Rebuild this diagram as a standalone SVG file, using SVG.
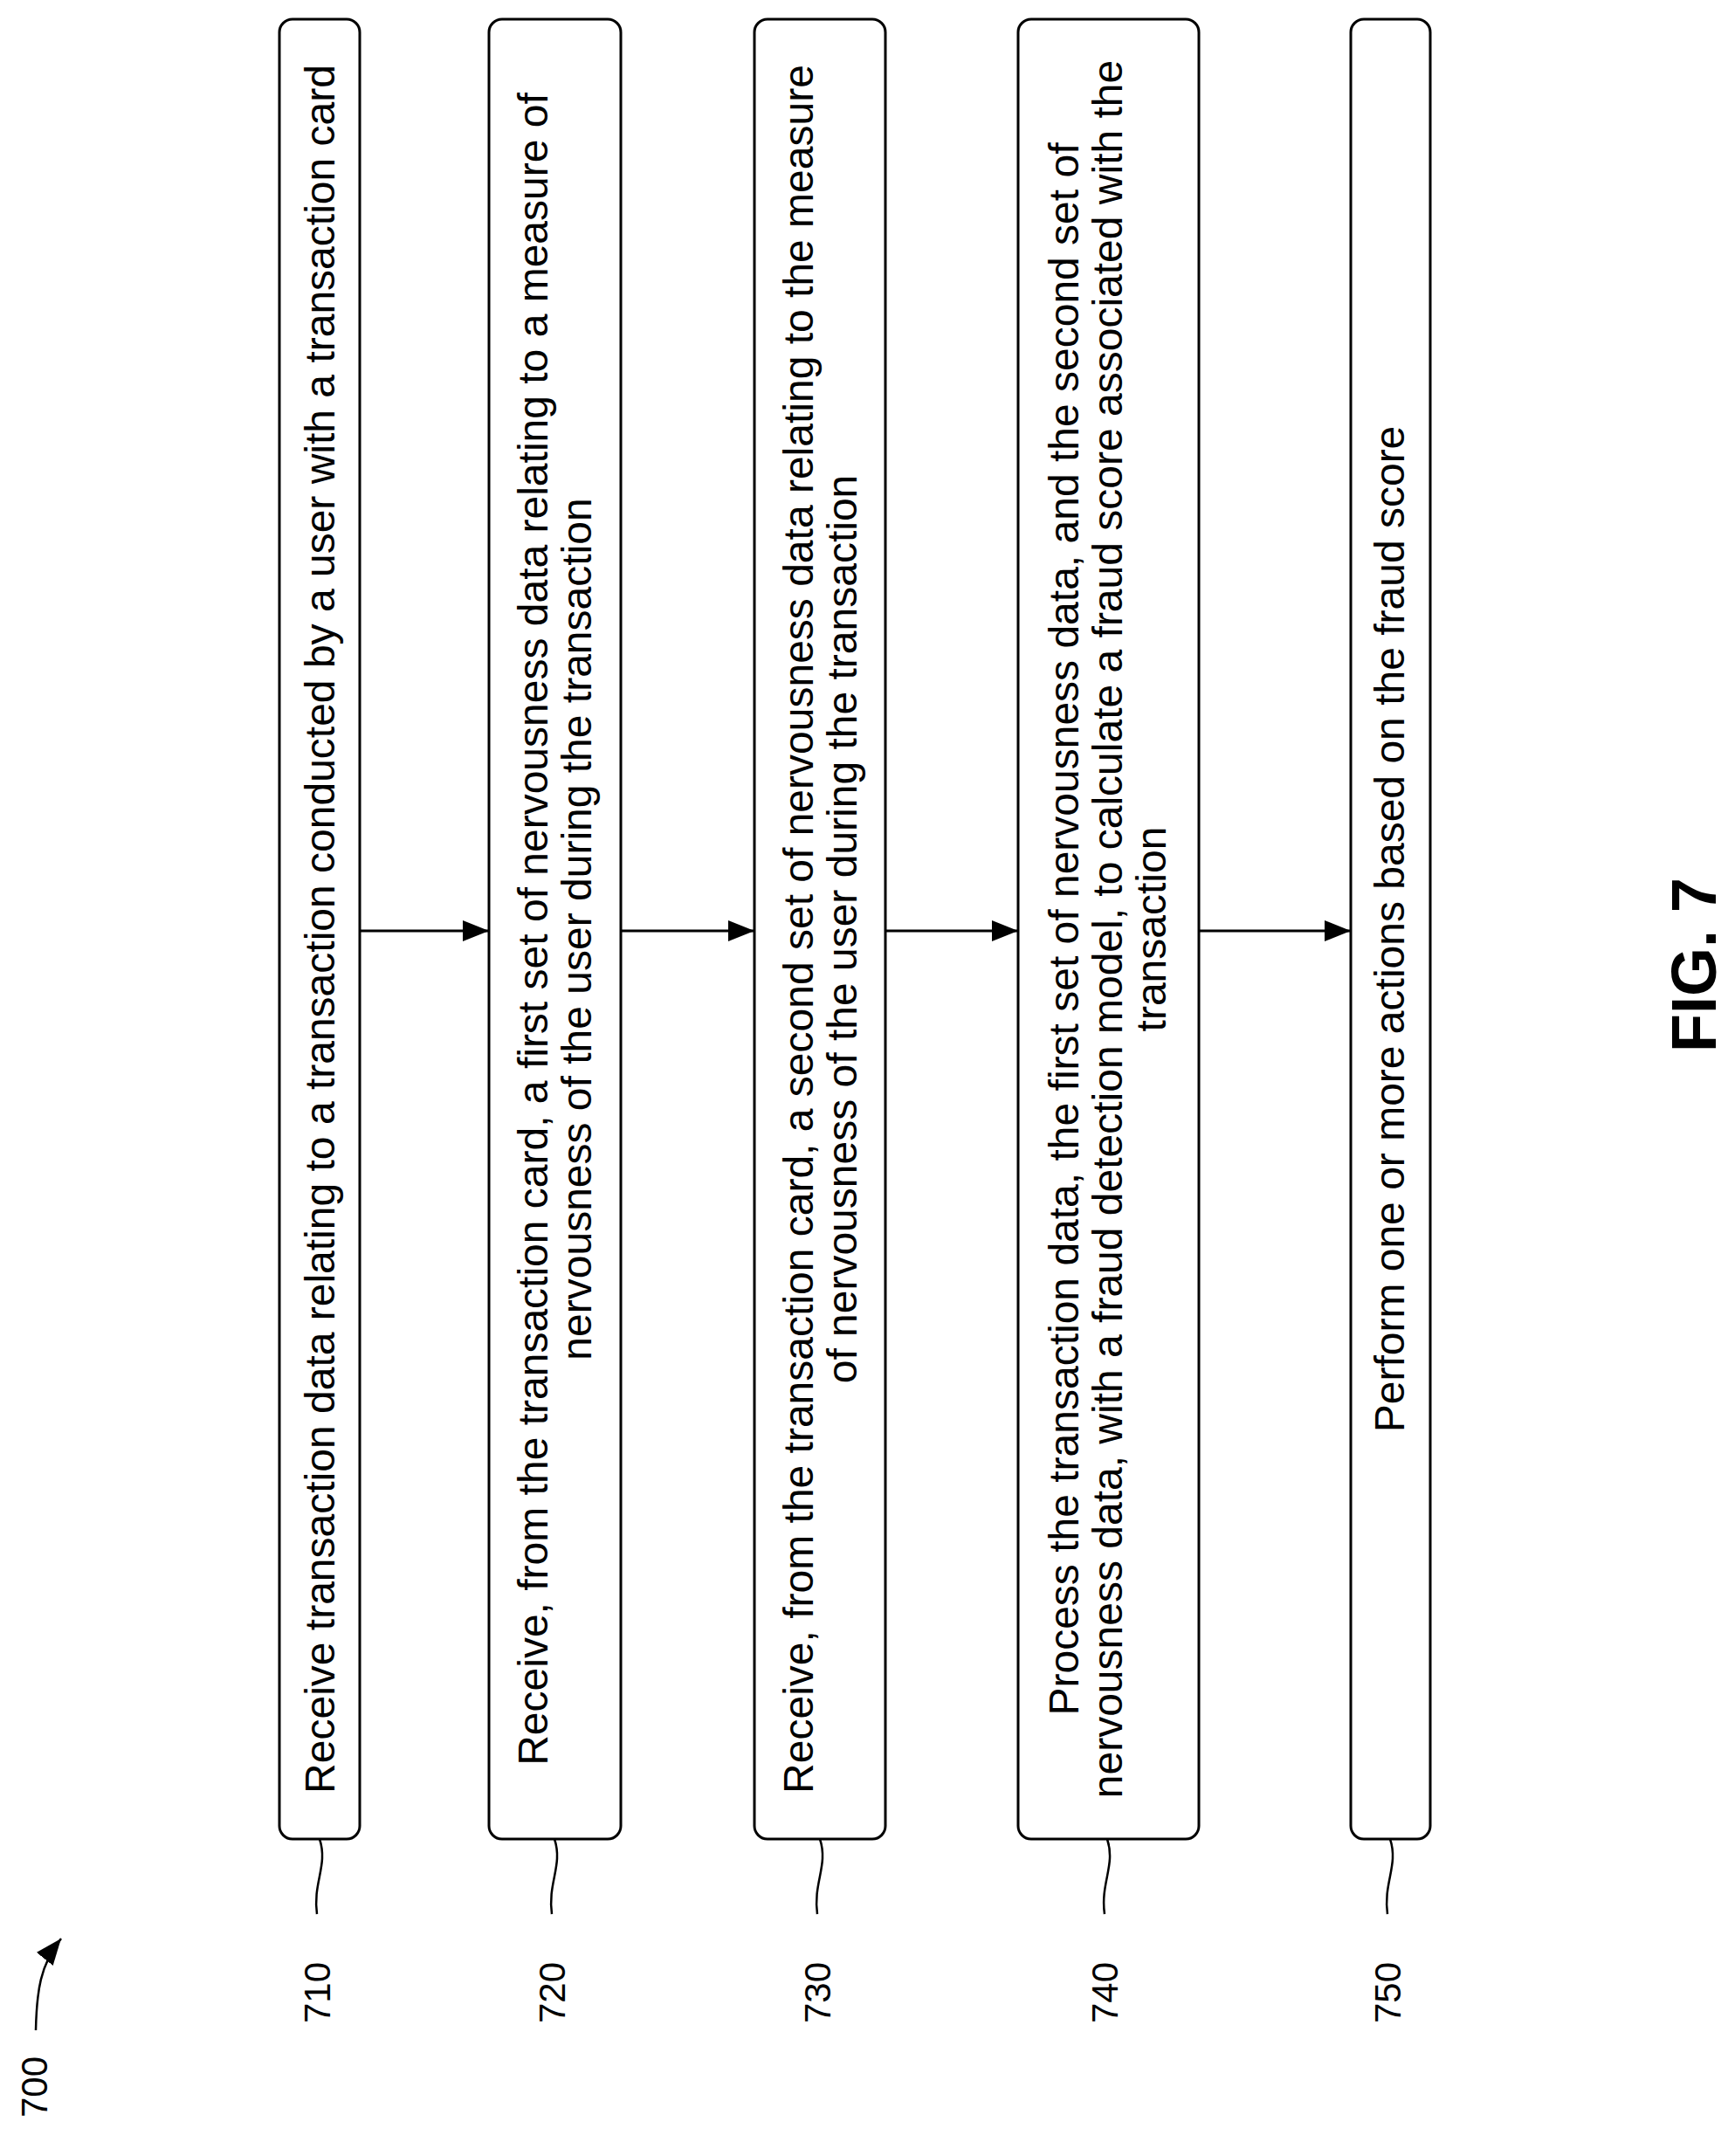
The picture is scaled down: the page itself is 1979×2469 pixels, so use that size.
<svg xmlns="http://www.w3.org/2000/svg" width="1979" height="2469" viewBox="0 0 1979 2469">
<style>
.b{fill:#fff;stroke:#000;stroke-width:3}
.t{font-family:"Liberation Sans",Arial,sans-serif;font-size:48px;text-anchor:middle}
.l{font-family:"Liberation Sans",Arial,sans-serif;font-size:42px;text-anchor:middle}
.c{fill:none;stroke:#000;stroke-width:2.5}
</style>
<defs>
<marker id="ah" markerWidth="30" markerHeight="24" refX="30" refY="12" orient="auto" markerUnits="userSpaceOnUse"><path d="M0,0L30,12L0,24z"/></marker></defs>
<rect width="1979" height="2469" fill="#fff"/>
<g id="n710"><rect class="b" x="320" y="22" width="92" height="2084" rx="15"/>
<text class="t" transform="translate(383,1064) rotate(-90)">Receive transaction data relating to a transaction conducted by a user with a transaction card</text>
<path class="c" d="M366,2106c10,30-8,50-3,86"/><text class="l" transform="translate(378,2282) rotate(-90)">710</text></g>
<g id="n720"><rect class="b" x="560" y="22" width="151" height="2084" rx="15"/>
<text class="t" transform="translate(627,1064) rotate(-90)">Receive, from the transaction card, a first set of nervousness data relating to a measure of</text>
<text class="t" transform="translate(677,1064) rotate(-90)">nervousness of the user during the transaction</text>
<path class="c" d="M635,2106c10,30-8,50-3,86"/><text class="l" transform="translate(647,2282) rotate(-90)">720</text></g>
<g id="n730"><rect class="b" x="864" y="22" width="150" height="2084" rx="15"/>
<text class="t" transform="translate(931,1064) rotate(-90)">Receive, from the transaction card, a second set of nervousness data relating to the measure</text>
<text class="t" transform="translate(981,1064) rotate(-90)">of nervousness of the user during the transaction</text>
<path class="c" d="M939,2106c10,30-8,50-3,86"/><text class="l" transform="translate(951,2282) rotate(-90)">730</text></g>
<g id="n740"><rect class="b" x="1166" y="22" width="207" height="2084" rx="15"/>
<text class="t" transform="translate(1235,1064) rotate(-90)">Process the transaction data, the first set of nervousness data, and the second set of</text>
<text class="t" transform="translate(1285,1064) rotate(-90)">nervousness data, with a fraud detection model, to calculate a fraud score associated with the</text>
<text class="t" transform="translate(1335,1064) rotate(-90)">transaction</text>
<path class="c" d="M1268,2106c10,30-8,50-3,86"/><text class="l" transform="translate(1280,2282) rotate(-90)">740</text></g>
<g id="n750"><rect class="b" x="1547" y="22" width="91" height="2084" rx="15"/>
<text class="t" transform="translate(1608,1064) rotate(-90)">Perform one or more actions based on the fraud score</text>
<path class="c" d="M1592,2106c10,30-8,50-3,86"/><text class="l" transform="translate(1604,2282) rotate(-90)">750</text></g>
<g id="connectors" stroke="#000" stroke-width="3">
<line x1="412" y1="1066" x2="560" y2="1066" marker-end="url(#ah)"/>
<line x1="711" y1="1066" x2="864" y2="1066" marker-end="url(#ah)"/>
<line x1="1014" y1="1066" x2="1166" y2="1066" marker-end="url(#ah)"/>
<line x1="1373" y1="1066" x2="1547" y2="1066" marker-end="url(#ah)"/>
</g>
<g id="label700"><text class="l" transform="translate(54,2390) rotate(-90)">700</text>
<path class="c" d="M41,2325C42,2280 46,2250 70,2220" marker-end="url(#ah)"/></g>
<text transform="translate(1965,1105) rotate(-90)" style="font-family:'Liberation Sans',Arial,sans-serif;font-size:72px;font-weight:bold;text-anchor:middle">FIG. 7</text>
</svg>
